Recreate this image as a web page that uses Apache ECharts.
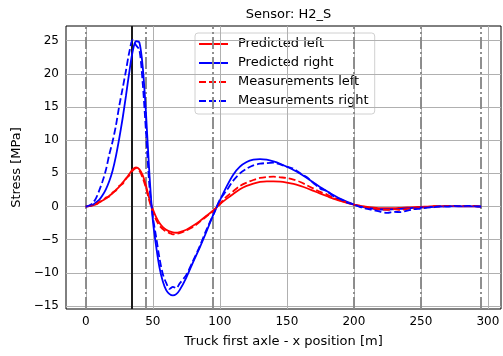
<!DOCTYPE html>
<html>
<head>
<meta charset="utf-8">
<script src="https://cdn.jsdelivr.net/npm/echarts@6/dist/echarts.min.js"></script>
<style>
  html, body { margin: 0; padding: 0; background: #fff; }
  #chart { width: 503px; height: 356px; }
</style>
</head>
<body>
<div id="chart"></div>
<script>
// Truck first axle position along the bridge [m]
const positions = [
  0, 2.5, 5, 7.5, 10, 12.5, 15, 17.5, 20, 22.5, 25, 27.5, 30, 32.5, 35, 37.5,
  40, 42.5, 45, 47.5, 50, 52.5, 55, 57.5, 60, 62.5, 65, 67.5, 70,
  75, 80, 85, 90, 95, 100, 105, 110, 115, 120, 125, 130, 135, 140, 145, 150,
  155, 160, 165, 170, 175, 180, 185, 190, 195, 200, 205, 210, 215, 220, 225,
  230, 235, 240, 245, 250, 255, 260, 265, 270, 275, 280, 285, 290, 295
];

// Stress [MPa]
const predictedLeft = [
  0, 0.05, 0.15, 0.3, 0.6, 0.9, 1.2, 1.6, 2.0, 2.5, 3.0, 3.6, 4.2, 4.9, 5.6, 5.9,
  5.6, 4.7, 3.1, 1.1, -0.4, -1.6, -2.5, -3.1, -3.5, -3.75, -3.9, -3.95, -3.85,
  -3.5, -2.9, -2.2, -1.4, -0.6, 0.35, 1.15, 1.9, 2.6, 3.1, 3.45, 3.7, 3.8, 3.8, 3.75, 3.6,
  3.4, 3.1, 2.75, 2.35, 1.95, 1.55, 1.15, 0.85, 0.55, 0.3, 0.1, -0.05, -0.15, -0.25, -0.25,
  -0.25, -0.2, -0.15, -0.1, -0.05, 0, 0.05, 0.05, 0.05, 0.05, 0.03, 0.02, 0.01, 0
];
const predictedRight = [
  0, 0.05, 0.25, 0.6, 1.0, 1.7, 2.6, 3.8, 5.4, 7.6, 10.3, 13.3, 16.7, 20.3, 23.4, 24.9,
  24.7, 21.0, 13.8, 4.8, -2.0, -6.0, -9.2, -11.3, -12.6, -13.2, -13.4, -13.2, -12.6,
  -10.7, -8.4, -6.2, -3.8, -1.3, 0.9, 3.0, 4.8, 6.0, 6.7, 7.05, 7.15, 7.05, 6.8, 6.45, 6.0,
  5.5, 4.95, 4.3, 3.6, 2.9, 2.3, 1.7, 1.15, 0.7, 0.3, 0.0, -0.2, -0.35, -0.45, -0.45,
  -0.4, -0.35, -0.3, -0.2, -0.15, -0.1, -0.05, 0, 0.02, 0.03, 0.03, 0.02, 0.01, 0
];
const measuredLeft = [
  0, 0.1, 0.3, 0.35, 0.7, 0.85, 1.35, 1.5, 2.1, 2.4, 3.1, 3.4, 4.2, 4.7, 5.4, 5.8,
  5.4, 4.3, 2.7, 0.8, -0.8, -2.0, -2.9, -3.4, -3.8, -4.0, -4.2, -4.1, -4.0,
  -3.6, -3.1, -2.3, -1.5, -0.7, 0.4, 1.5, 2.3, 3.1, 3.6, 4.0, 4.3, 4.45, 4.5, 4.4, 4.3,
  4.05, 3.7, 3.2, 2.7, 2.2, 1.8, 1.3, 0.9, 0.6, 0.3, 0.1, -0.15, -0.3, -0.45, -0.5,
  -0.4, -0.5, -0.35, -0.3, -0.15, -0.1, 0.05, 0, 0.1, 0.05, 0.1, 0.05, 0.1, 0
];
const measuredRight = [
  0, 0.15, 0.5, 1.2, 2.4, 3.8, 5.5, 7.8, 9.8, 12.2, 15.2, 17.8, 20.5, 23.3, 25.1, 24.3,
  23.6, 18.5, 11.0, 3.0, -1.5, -4.6, -7.8, -10.2, -11.5, -12.4, -12.1, -12.3, -11.6,
  -10.3, -8.2, -6.0, -3.5, -1.3, 1.0, 2.4, 3.9, 5.0, 5.7, 6.2, 6.45, 6.55, 6.6, 6.35, 6.0,
  5.7, 5.0, 4.4, 3.5, 2.7, 2.3, 1.5, 1.1, 0.6, 0.3, -0.1, -0.35, -0.55, -0.8, -0.95,
  -0.8, -0.85, -0.6, -0.4, -0.3, -0.15, -0.1, 0.05, 0, 0.1, 0.05, 0.1, 0.05, 0
];

const xTicks = [0, 50, 100, 150, 200, 250, 300];
const yTicks = [-15, -10, -5, 0, 5, 10, 15, 20, 25];
// Dash-dot reference positions and the black marker position [m]
const supportLines = [0, 45, 94.5, 200, 250, 295];
const markerLine = 34.2;

const seriesNames = ['Predicted left', 'Predicted right', 'Measurements left', 'Measurements right'];

const pair = ys => positions.map((x, i) => [x, ys[i]]);
const minus = v => (v < 0 ? '\u2212' + Math.abs(v) : String(v));
const FONT = 'DejaVu Sans';

function dataLine(name, ys, color, dashed) {
  return {
    name: name,
    type: 'line',
    data: pair(ys),
    smooth: 0.3,
    showSymbol: false,
    symbol: 'none',
    z: 5,
    lineStyle: { color: color, width: 1.8, type: dashed ? [7, 3] : 'solid' },
    itemStyle: { color: color }
  };
}

function refLines(name, z, style, data) {
  return {
    name: name,
    type: 'line',
    data: [],
    z: z,
    silent: true,
    markLine: {
      silent: true,
      symbol: 'none',
      animation: false,
      label: { show: false },
      lineStyle: style,
      data: data
    }
  };
}

const chart = echarts.init(document.getElementById('chart'), null, { renderer: 'canvas' });

chart.setOption({
  animation: false,
  backgroundColor: '#fff',
  textStyle: { fontFamily: FONT },
  title: {
    text: 'Sensor: H2_S',
    left: 283.5,
    top: 3,
    textAlign: 'center',
    textStyle: { fontFamily: FONT, fontSize: 13, fontWeight: 'normal', color: '#000' }
  },
  grid: {
    left: 66, right: 2, top: 26, bottom: 47,
    show: true, borderColor: '#000', borderWidth: 1, backgroundColor: 'transparent'
  },
  legend: {
    data: seriesNames,
    orient: 'vertical',
    left: 195,
    top: 33,
    padding: [4, 6, 6, 3],
    itemWidth: 29,
    itemHeight: 14,
    itemGap: 5,
    // line only, no marker symbol on the legend keys
    itemStyle: { opacity: 0 },
    backgroundColor: 'rgba(255,255,255,0.8)',
    borderColor: '#d0d0d0',
    borderWidth: 1,
    borderRadius: 3,
    textStyle: { fontFamily: FONT, fontSize: 13, color: '#000', padding: [0, 0, 0, 5], lineHeight: 14 }
  },
  xAxis: {
    type: 'value',
    min: -14.75,
    max: 309.75,
    name: 'Truck first axle - x position [m]',
    nameLocation: 'middle',
    nameGap: 26,
    nameTextStyle: { fontFamily: FONT, fontSize: 13, color: '#000' },
    axisLine: { show: false },
    splitLine: { show: false },
    axisTick: { show: true, length: 3.5, customValues: xTicks, lineStyle: { color: '#000' } },
    axisLabel: { customValues: xTicks, margin: 7, fontFamily: FONT, fontSize: 12, color: '#000', formatter: minus }
  },
  yAxis: {
    type: 'value',
    min: -15.44,
    max: 27.2,
    name: 'Stress [MPa]',
    nameLocation: 'middle',
    nameGap: 42,
    nameTextStyle: { fontFamily: FONT, fontSize: 13, color: '#000' },
    axisLine: { show: false },
    splitLine: { show: false },
    axisTick: { show: true, length: 3.5, customValues: yTicks, lineStyle: { color: '#000' } },
    axisLabel: { customValues: yTicks, margin: 7, fontFamily: FONT, fontSize: 12, color: '#000', formatter: minus }
  },
  series: [
    refLines('grid', 1, { color: '#b0b0b0', width: 1, type: 'solid' },
      xTicks.map(v => ({ xAxis: v })).concat(yTicks.map(v => ({ yAxis: v })))),
    refLines('supports', 2, { color: '#8a8a8a', width: 1.9, type: [12, 3, 2, 3] },
      supportLines.map(v => ({ xAxis: v }))),
    refLines('marker', 3, { color: '#1a1a1a', width: 2, type: 'solid' },
      [{ xAxis: markerLine }]),
    dataLine(seriesNames[0], predictedLeft, '#ff0000', false),
    dataLine(seriesNames[1], predictedRight, '#0000ff', false),
    dataLine(seriesNames[2], measuredLeft, '#ff0000', true),
    dataLine(seriesNames[3], measuredRight, '#0000ff', true)
  ]
});
</script>
</body>
</html>
